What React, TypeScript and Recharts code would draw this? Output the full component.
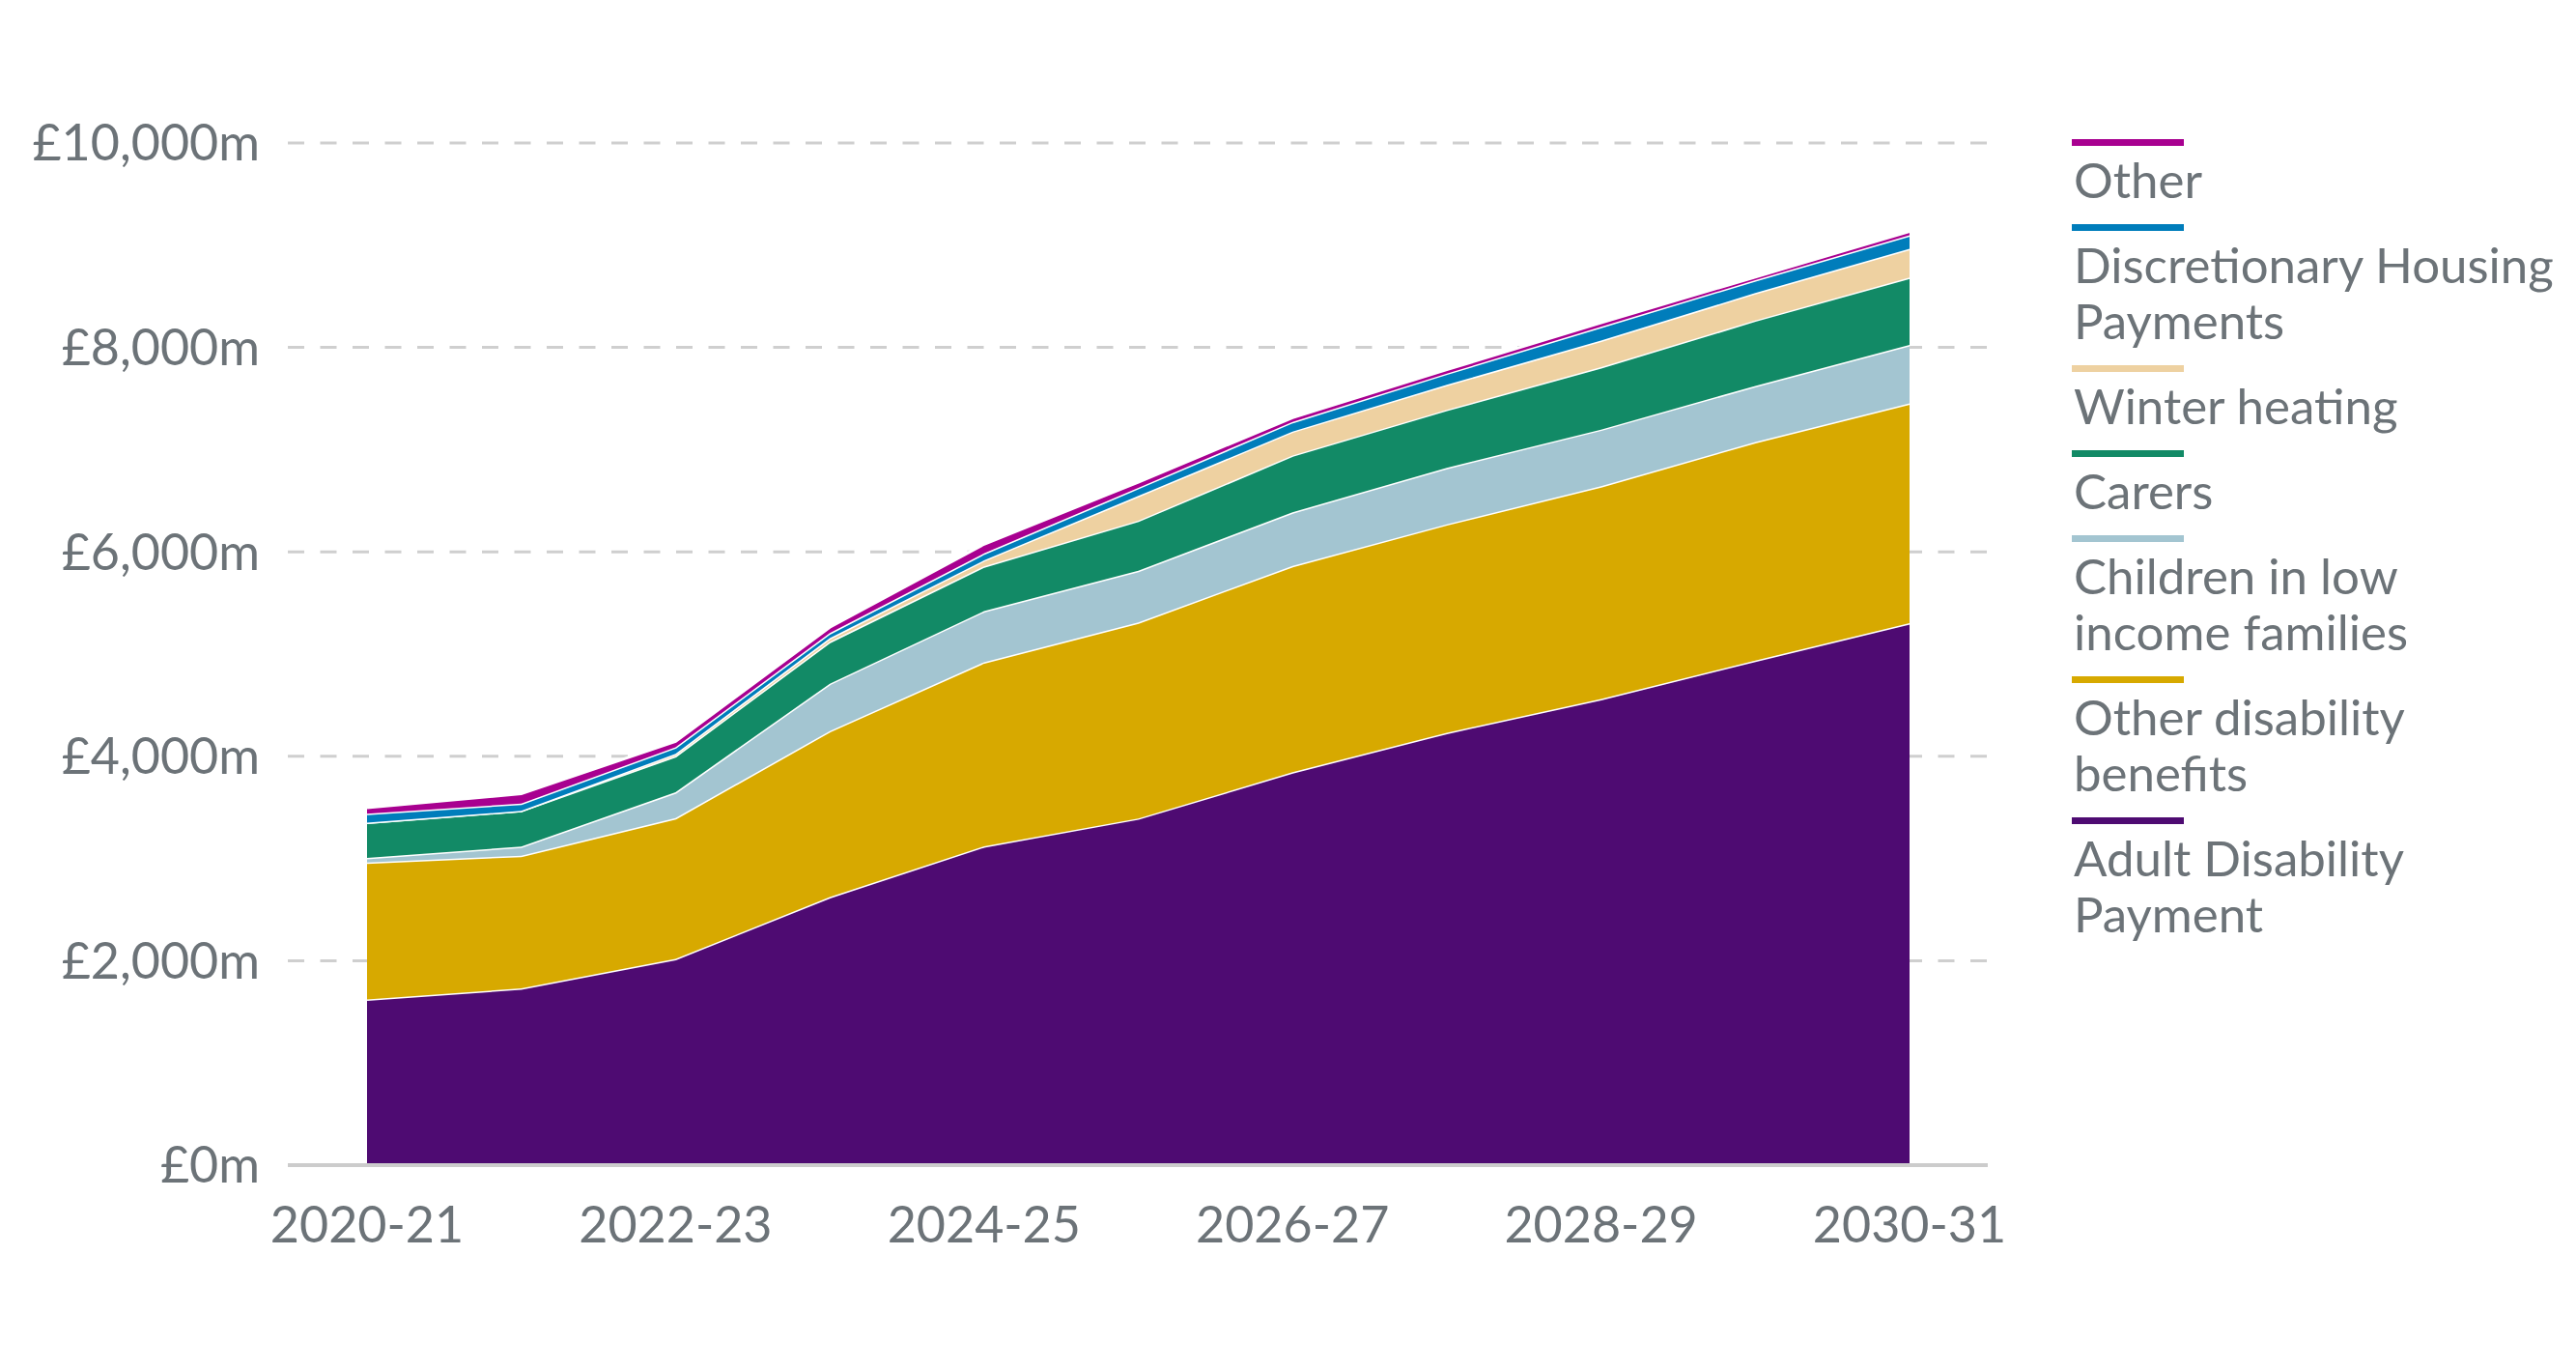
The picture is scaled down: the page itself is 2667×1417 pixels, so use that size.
import { Area, AreaChart, CartesianGrid, XAxis, YAxis } from "recharts";

const YEARS = [
  "2020-21", "2021-22", "2022-23", "2023-24", "2024-25", "2025-26",
  "2026-27", "2027-28", "2028-29", "2029-30", "2030-31",
];

// £m
const ADULT_DISABILITY = [1620, 1730, 2017, 2623, 3119, 3392, 3844, 4230, 4560, 4936, 5303];
const OTHER_DISABILITY = [1340, 1298, 1378, 1624, 1801, 1918, 2018, 2040, 2082, 2139, 2150];
const CHILDREN_LOW_INCOME = [45, 89, 253, 463, 500, 505, 525, 552, 554, 548, 572];
const CARERS = [345, 350, 354, 410, 438, 490, 556, 568, 611, 641, 659];
const WINTER_HEATING = [0, 0, 23, 35, 59, 242, 234, 244, 259, 268, 281];
const HOUSING_PAYMENTS = [87, 71, 63, 50, 68, 79, 94, 110, 135, 126, 132];
const OTHER = [60, 95, 57, 57, 90, 56, 42, 38, 40, 31, 38];

const Y_TICKS = [0, 2000, 4000, 6000, 8000, 10000];

const SERIES = [
  { key: "adp", name: "Adult Disability\nPayment", color: "#4e0b72", values: ADULT_DISABILITY },
  { key: "odb", name: "Other disability\nbenefits", color: "#d7a900", values: OTHER_DISABILITY },
  { key: "clif", name: "Children in low\nincome families", color: "#a3c5d1", values: CHILDREN_LOW_INCOME },
  { key: "carers", name: "Carers", color: "#128a66", values: CARERS },
  { key: "winter", name: "Winter heating", color: "#eed1a1", values: WINTER_HEATING },
  { key: "dhp", name: "Discretionary Housing\nPayments", color: "#007dbb", values: HOUSING_PAYMENTS },
  { key: "other", name: "Other", color: "#a80090", values: OTHER },
];

const FONT = "Lato, 'Noto Sans', sans-serif";
const GREY = "#6c7378";

const data = YEARS.map((year, i) => {
  const row: Record<string, string | number> = { year };
  SERIES.forEach((s) => {
    row[s.key] = s.values[i];
  });
  return row;
});

function Legend() {
  return (
    <div style={{ position: "absolute", left: 2145, top: 144, fontFamily: FONT, color: GREY }}>
      {[...SERIES].reverse().map((s) => (
        <div key={s.key} style={{ marginBottom: 17 }}>
          <div style={{ width: 116, height: 7, background: s.color }} />
          <div
            style={{
              marginTop: 6,
              fontSize: 51,
              lineHeight: "58px",
              whiteSpace: "pre-line",
              paddingLeft: 2,
            }}
          >
            {s.name}
          </div>
        </div>
      ))}
    </div>
  );
}

export default function App() {
  const tick = { fontSize: 52, fill: GREY, fontFamily: FONT };
  return (
    <div style={{ position: "absolute", left: 0, top: 0, width: 2667, height: 1417, background: "#fff" }}>
      <AreaChart
        width={2100}
        height={1417}
        data={data}
        margin={{ top: 148, right: 42, bottom: 0, left: 0 }}
      >
        <CartesianGrid
          vertical={false}
          stroke="#cfcfcf"
          strokeWidth={3}
          strokeDasharray="17 16.5"
        />
        <XAxis
          dataKey="year"
          interval={1}
          padding={{ left: 82, right: 81 }}
          height={211}
          tickLine={false}
          tickSize={0}
          tickMargin={43}
          axisLine={{ stroke: "#cccccc", strokeWidth: 4 }}
          tick={tick}
        />
        <YAxis
          domain={[0, 10000]}
          ticks={Y_TICKS}
          width={298}
          axisLine={false}
          tickLine={false}
          tickSize={0}
          tickMargin={29}
          tick={tick}
          tickFormatter={(v: number) => `£${v.toLocaleString("en-GB")}m`}
        />
        {SERIES.map((s) => (
          <Area
            key={s.key}
            dataKey={s.key}
            name={s.name}
            stackId="1"
            type="linear"
            fill={s.color}
            fillOpacity={1}
            stroke="#ffffff"
            strokeWidth={3}
            dot={false}
            activeDot={false}
            isAnimationActive={false}
          />
        ))}
      </AreaChart>
      <Legend />
    </div>
  );
}
